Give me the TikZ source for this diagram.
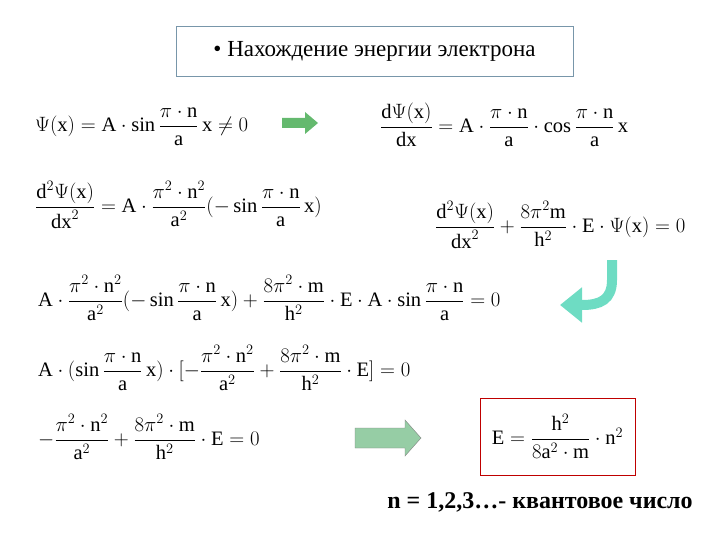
\documentclass[tikz,border=0pt]{standalone}
\usepackage{amsmath}
\usepackage{fontspec}
\setmainfont{Liberation Serif}
\usetikzlibrary{arrows.meta}
\definecolor{grn}{RGB}{100,185,110}
\definecolor{turq}{RGB}{110,220,195}
\definecolor{lgrn}{RGB}{150,205,165}
\definecolor{boxb}{RGB}{120,150,170}
\newcommand{\rmm}[1]{\mathrm{#1}}
\tikzset{eq/.style={inner sep=0pt,anchor=west,font=\fontsize{20.5}{24}\selectfont}}
\begin{document}
\begin{tikzpicture}[x=1pt,y=-1pt]
\useasboundingbox (0,0) rectangle (720,540);
\node[draw=boxb,minimum width=397,minimum height=50,font=\fontsize{23}{27}\selectfont] (title) at (374.5,51) {• Нахождение энергии электрона};
\node[eq] (e1) at (35,127) {$\Psi(\rmm{x})=\rmm{A}\cdot\sin\dfrac{\pi\cdot\rmm{n}}{\rmm{a}}\,\rmm{x}\neq0$};
\node[eq] (e3) at (380,125) {$\dfrac{\rmm{d}\Psi(\rmm{x})}{\rmm{dx}}=\rmm{A}\cdot\dfrac{\pi\cdot\rmm{n}}{\rmm{a}}\cdot\cos\dfrac{\pi\cdot\rmm{n}}{\rmm{a}}\,\rmm{x}$};
\node[eq] (e4) at (35,205) {$\dfrac{\rmm{d}^2\Psi(\rmm{x})}{\rmm{dx}^2}=\rmm{A}\cdot\dfrac{\pi^2\cdot\rmm{n}^2}{\rmm{a}^2}(-\sin\dfrac{\pi\cdot\rmm{n}}{\rmm{a}}\,\rmm{x})$};
\node[eq] (e5) at (435,225) {$\dfrac{\rmm{d}^2\Psi(\rmm{x})}{\rmm{dx}^2}+\dfrac{8\pi^2\rmm{m}}{\rmm{h}^2}\cdot\rmm{E}\cdot\Psi(\rmm{x})=0$};
\node[eq] (e7) at (38,298) {$\rmm{A}\cdot\dfrac{\pi^2\cdot\rmm{n}^2}{\rmm{a}^2}(-\sin\dfrac{\pi\cdot\rmm{n}}{\rmm{a}}\,\rmm{x})+\dfrac{8\pi^2\cdot\rmm{m}}{\rmm{h}^2}\cdot\rmm{E}\cdot\rmm{A}\cdot\sin\dfrac{\pi\cdot\rmm{n}}{\rmm{a}}=0$};
\node[eq] (e8) at (38,368) {$\rmm{A}\cdot(\sin\dfrac{\pi\cdot\rmm{n}}{\rmm{a}}\,\rmm{x})\cdot[-\dfrac{\pi^2\cdot\rmm{n}^2}{\rmm{a}^2}+\dfrac{8\pi^2\cdot\rmm{m}}{\rmm{h}^2}\cdot\rmm{E}]=0$};
\node[eq] (e9) at (38,437) {$-\dfrac{\pi^2\cdot\rmm{n}^2}{\rmm{a}^2}+\dfrac{8\pi^2\cdot\rmm{m}}{\rmm{h}^2}\cdot\rmm{E}=0$};
\node[draw=red!75!black,fill=white,minimum width=155,minimum height=77,eq,anchor=center] (res) at (557.5,436.5) {$\rmm{E}=\dfrac{\rmm{h}^2}{8\rmm{a}^2\cdot\rmm{m}}\cdot\rmm{n}^2$};
\node[font=\fontsize{24}{28}\selectfont\bfseries] (nq) at (540,502) {n = 1,2,3…- квантовое число};
% green arrow
\fill[grn] (282,118) -- (305,118) -- (305,112) -- (318,123) -- (305,134) -- (305,128) -- (282,128) -- cycle;
% big arrow
\filldraw[fill=lgrn,draw=gray] (355,428) -- (405,428) -- (405,420) -- (421,438) -- (405,456) -- (405,448) -- (355,448) -- cycle;
% curved arrow
\draw[turq,line width=10pt,-{Triangle[length=22pt,width=34pt]}] (612,260) -- (612,280) .. controls (612,300) and (600,305) .. (582,305) -- (560,305);
\end{tikzpicture}
\end{document}
